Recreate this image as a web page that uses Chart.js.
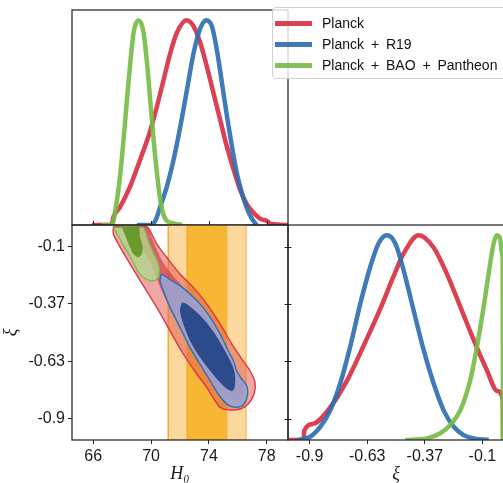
<!DOCTYPE html>
<html lang="en">
<head>
<meta charset="UTF-8">
<title>H0 - xi constraints</title>
<script src="https://cdn.jsdelivr.net/npm/chart.js@4"></script>
<style>
  body { margin: 0; background: #fff; overflow: hidden; }
  #fig { position: relative; width: 503px; height: 483px; overflow: hidden; }
  #fig canvas { position: absolute; left: 0; top: 0; }
  #legend {
    position: absolute; left: 272px; top: 7px; width: 240px; height: 72px;
    box-sizing: border-box; background: rgba(255,255,255,0.8);
    border: 1px solid #d2d2d2; border-radius: 4px;
    font: 14px "Liberation Sans", sans-serif; color: #111; word-spacing: 3px;
  }
  .item { position: absolute; left: 0; height: 21px; line-height: 21px; white-space: nowrap; }
  .swatch { position: absolute; left: 2px; top: 8px; width: 37px; height: 5px; }
  .label { position: absolute; left: 49px; }
</style>
</head>
<body>
<div id="fig">
  <canvas id="topPanel" width="503" height="483"></canvas>
  <canvas id="pairPanel" width="503" height="483"></canvas>
  <canvas id="xiPanel" width="520" height="483"></canvas>
  <div id="legend"></div>
</div>

<script>
// series
const seriesNames = ['Planck', 'Planck + R19', 'Planck + BAO + Pantheon'];
const seriesColors = ['rgba(216,48,68,0.92)', 'rgba(46,112,178,0.92)', 'rgba(118,188,70,0.92)'];

// axes
const h0Range = [64.53, 79.47];
const xiRange = [-1, 0];
const h0Ticks = [66, 70, 74, 78];
const h0TickLabels = ['66', '70', '74', '78'];
const xiTicks = [-0.1, -0.3667, -0.6333, -0.9];
const xiTickLabels = ['-0.1', '-0.37', '-0.63', '-0.9'];

// 1D posteriors of H0 (normalised to peak 1)
const planckH0 = [[65.91,0],[67.25,0],[67.4,0.04],[67.87,0.09],[68.56,0.19],[69.25,0.32],[69.94,0.46],[70.41,0.58],
  [70.87,0.71],[71.33,0.84],[71.79,0.94],[72.44,1.0],[72.94,0.97],[73.4,0.89],[73.87,0.77],[74.33,0.64],[74.79,0.51],
  [75.25,0.38],[75.71,0.27],[76.17,0.17],[76.64,0.1],[77.09,0.06],[77.56,0.03],[78.02,0.02],[78.3,0.005],[79.47,0]];
const r19H0 = [[69.02,0],[70.06,0],[70.35,0.03],[70.64,0.09],[71.1,0.19],[71.56,0.32],[72.02,0.48],[72.48,0.66],
  [72.94,0.84],[73.4,0.96],[73.82,1.0],[74.21,0.97],[74.56,0.85],[74.91,0.69],[75.25,0.53],[75.6,0.38],[75.94,0.25],
  [76.29,0.155],[76.64,0.08],[76.98,0.03],[77.21,0.008],[77.3,0]];
const baoH0 = [[66.6,0],[67.3,0],[67.45,0.04],[67.64,0.12],[67.87,0.25],[68.1,0.42],[68.33,0.61],[68.56,0.79],
  [68.79,0.94],[69.13,1.0],[69.48,0.94],[69.72,0.79],[69.94,0.61],[70.17,0.42],[70.41,0.25],[70.64,0.12],
  [70.98,0.03],[71.56,0.008],[72.14,0]];

// 1D posteriors of xi
const planckXi = [[-1,0],[-0.928,0],[-0.925,0.045],[-0.881,0.08],[-0.804,0.16],[-0.727,0.29],[-0.65,0.46],
  [-0.573,0.64],[-0.511,0.8],[-0.465,0.91],[-0.395,1.0],[-0.326,0.94],[-0.264,0.81],[-0.202,0.65],[-0.141,0.49],
  [-0.079,0.34],[-0.032,0.24],[-0.006,0.2],[-0.004,0]];
const r19Xi = [[-0.953,0],[-0.897,0.016],[-0.85,0.065],[-0.804,0.146],[-0.758,0.277],[-0.712,0.456],[-0.665,0.667],
  [-0.619,0.846],[-0.581,0.96],[-0.542,1.0],[-0.503,0.96],[-0.465,0.83],[-0.419,0.635],[-0.372,0.44],[-0.326,0.277],
  [-0.28,0.146],[-0.233,0.065],[-0.187,0.024],[-0.141,0.008],[-0.071,0]];
const baoXi = [[-0.457,0],[-0.357,0.008],[-0.295,0.033],[-0.249,0.073],[-0.202,0.146],[-0.156,0.293],[-0.125,0.456],
  [-0.094,0.651],[-0.071,0.814],[-0.048,0.96],[-0.032,1.0],[-0.017,0.977],[-0.009,0.911],[-0.006,0.85],[-0.005,0]];

// 2D contours (H0, xi), 95% and 68%
const planckOuter = [[67.39,-0.008],[67.39,-0.042],[67.73,-0.088],[68.54,-0.181],[69.46,-0.282],[70.39,-0.383],
  [71.31,-0.492],[72.23,-0.6],[73.16,-0.693],[73.85,-0.755],[74.42,-0.817],[74.77,-0.848],[75.34,-0.86],[76.15,-0.856],
  [76.72,-0.833],[77.12,-0.786],[77.19,-0.732],[76.84,-0.678],[76.27,-0.623],[75.58,-0.553],[74.77,-0.46],
  [73.85,-0.367],[72.92,-0.29],[72.0,-0.228],[71.08,-0.15],[70.39,-0.088],[69.93,-0.027],[69.7,-0.008]];
const planckInner = [[69.23,-0.093],[69.93,-0.172],[70.27,-0.228],[70.62,-0.288],[71.03,-0.349],[71.65,-0.428],
  [72.35,-0.516],[73.04,-0.595],[73.73,-0.674],[74.35,-0.74],[74.91,-0.791],[75.6,-0.814],[76.15,-0.809],
  [76.43,-0.781],[76.36,-0.735],[76.01,-0.688],[75.53,-0.628],[75.04,-0.563],[74.35,-0.479],[73.59,-0.4],
  [72.83,-0.335],[72.0,-0.274],[71.31,-0.219],[70.82,-0.172],[70.41,-0.116],[70.06,-0.06],[69.79,-0.014],[69.1,-0.014]];
const r19Outer = [[70.73,-0.228],[70.62,-0.259],[70.85,-0.306],[71.31,-0.383],[72.0,-0.476],[72.69,-0.569],
  [73.38,-0.647],[74.08,-0.724],[74.65,-0.786],[75.11,-0.825],[75.58,-0.845],[76.15,-0.845],[76.5,-0.825],
  [76.68,-0.786],[76.61,-0.747],[76.27,-0.716],[75.92,-0.678],[75.69,-0.631],[75.34,-0.585],[74.77,-0.507],
  [74.08,-0.429],[73.38,-0.367],[72.69,-0.321],[72.0,-0.282],[71.43,-0.259],[71.08,-0.243]];
const r19Inner = [[72.12,-0.36],[72.0,-0.399],[72.23,-0.46],[72.69,-0.538],[73.38,-0.615],[74.08,-0.678],
  [74.77,-0.732],[75.34,-0.766],[75.65,-0.771],[75.8,-0.747],[75.8,-0.693],[75.58,-0.647],[75.11,-0.585],
  [74.42,-0.507],[73.73,-0.445],[73.04,-0.399],[72.46,-0.367]];
const baoOuter = [[67.39,-0.011],[67.85,-0.065],[68.31,-0.12],[68.77,-0.173],[69.12,-0.22],[69.46,-0.243],
  [69.93,-0.259],[70.34,-0.256],[70.57,-0.228],[70.5,-0.181],[70.15,-0.127],[69.81,-0.073],[69.58,-0.027],[69.46,-0.011]];
const baoInner = [[67.97,-0.011],[68.08,-0.027],[68.31,-0.065],[68.54,-0.104],[68.77,-0.135],[69.12,-0.15],
  [69.35,-0.135],[69.42,-0.104],[69.23,-0.057],[69.12,-0.011]];

// local H0 measurement (R19) bands: 68% and 95%
const r19Band68 = [72.5, 75.23];
const r19Band95 = [71.19, 76.57];

const tickFont = { family: '"Liberation Sans", Arial, sans-serif', size: 16 };
const titleFont = { family: '"Liberation Serif", "DejaVu Serif", serif', size: 18, style: 'italic' };
const ink = '#1a1a1a';

// frame + inward tick marks drawn with the chart's own scales
const panelFrame = {
  id: 'panelFrame',
  afterDraw(chart, args, opts) {
    const { ctx, chartArea: a } = chart;
    ctx.save();
    ctx.strokeStyle = '#262626';
    ctx.lineWidth = 1;
    (opts.inTicks || []).forEach(t => {
      const scale = chart.scales[t.scale];
      t.values.forEach(v => {
        const p = Math.round(scale.getPixelForValue(v)) + 0.5;
        ctx.beginPath();
        if (t.side === 'bottom') {
          ctx.moveTo(p, a.bottom); ctx.lineTo(p, a.bottom - t.len);
        } else if (t.side === 'right') {
          ctx.moveTo(a.right + t.len, p); ctx.lineTo(a.right - t.len, p);
        }
        ctx.stroke();
      });
    });
    ctx.lineWidth = 1.25;
    ctx.strokeRect(a.left, a.top, a.right - a.left, a.bottom - a.top);
    ctx.restore();
  }
};

function toXY(pts) {
  return pts.map(p => ({ x: p[0], y: p[1] }));
}

function curve(pts, color) {
  return {
    data: toXY(pts), borderColor: color, borderWidth: 4.5, pointRadius: 0,
    fill: false, cubicInterpolationMode: 'monotone'
  };
}

function region(pts, fillColor, lineColor, lw, tension) {
  return {
    data: toXY(pts.concat([pts[0]])), backgroundColor: fillColor, borderColor: lineColor,
    borderWidth: lw, pointRadius: 0, fill: 'shape', tension: tension === undefined ? 0.3 : tension
  };
}

function band(lim, fillColor) {
  const pts = [[lim[0], xiRange[0]], [lim[1], xiRange[0]], [lim[1], xiRange[1]], [lim[0], xiRange[1]]];
  return region(pts, fillColor, 'rgba(245,170,40,0.9)', 1, 0);
}

// painter's order: first layer at the bottom
function stack(layers) {
  layers.forEach((d, i) => { d.order = layers.length - i; });
  return layers;
}

function tickAxis(vals, labels, range, extra) {
  return Object.assign({
    type: 'linear', min: range[0], max: range[1],
    afterBuildTicks: s => { s.ticks = vals.map(v => ({ value: v })); },
    ticks: {
      autoSkip: false, maxRotation: 0, color: ink, font: tickFont, padding: 3,
      callback: v => labels[vals.indexOf(v)]
    },
    grid: { display: true, drawOnChartArea: false, drawTicks: true, tickLength: 4, color: '#262626', lineWidth: 1 },
    border: { display: false }
  }, extra);
}

const baseOptions = {
  responsive: false,
  animation: false,
  events: [],
  plugins: { legend: { display: false }, tooltip: { enabled: false } }
};

// top-left: H0 marginals
new Chart(document.getElementById('topPanel'), {
  type: 'line',
  data: { datasets: stack([
    curve(planckH0, seriesColors[0]),
    curve(r19H0, seriesColors[1]),
    curve(baoH0, seriesColors[2])
  ]) },
  options: Object.assign({}, baseOptions, {
    layout: { padding: { left: 72, top: 10, right: 215, bottom: 258 } },
    scales: {
      x: { type: 'linear', display: false, min: h0Range[0], max: h0Range[1] },
      y: { type: 'linear', display: false, min: 0, max: 1.05 }
    },
    plugins: Object.assign({}, baseOptions.plugins, {
      panelFrame: { inTicks: [{ scale: 'x', side: 'bottom', values: h0Ticks, len: 4 }] }
    })
  }),
  plugins: [panelFrame]
});

// bottom-left: H0 vs xi
new Chart(document.getElementById('pairPanel'), {
  type: 'line',
  data: { datasets: stack([
    band(r19Band95, 'rgba(253,216,158,1)'),
    band(r19Band68, 'rgba(247,183,52,1)'),
    region(planckOuter, 'rgba(224,96,84,0.55)', 'rgba(216,48,68,0.95)', 1.4),
    region(planckInner, 'rgba(214,45,62,0.6)', 'rgba(216,48,68,0)', 0),
    region(baoOuter, 'rgba(178,214,140,0.8)', 'rgba(118,188,70,1)', 1.3),
    region(baoInner, 'rgba(98,152,36,0.92)', 'rgba(98,152,36,0)', 0),
    region(r19Outer, 'rgba(152,166,214,0.88)', 'rgba(46,112,178,1)', 1.4),
    region(r19Inner, 'rgba(38,72,138,0.96)', 'rgba(38,72,138,0)', 0)
  ]) },
  options: Object.assign({}, baseOptions, {
    layout: { padding: { left: 0, top: 225, right: 215, bottom: 0 } },
    scales: {
      x: tickAxis(h0Ticks, h0TickLabels, h0Range, {
        position: 'bottom',
        afterFit: s => { s.height = 43; },
        title: { display: true, text: 'H₀', color: ink, font: titleFont, padding: { top: 0, bottom: -2 } }
      }),
      y: tickAxis(xiTicks, xiTickLabels, xiRange, {
        position: 'left',
        afterFit: s => { s.width = 72; },
        title: { display: true, text: 'ξ', color: ink, font: titleFont, padding: 0 }
      })
    },
    plugins: Object.assign({}, baseOptions.plugins, {
      panelFrame: { inTicks: [{ scale: 'y', side: 'right', values: xiTicks, len: 3.5 }] }
    })
  }),
  plugins: [panelFrame]
});

// bottom-right: xi marginals
new Chart(document.getElementById('xiPanel'), {
  type: 'line',
  data: { datasets: stack([
    curve(planckXi, seriesColors[0]),
    curve(r19Xi, seriesColors[1]),
    curve(baoXi, seriesColors[2])
  ]) },
  options: Object.assign({}, baseOptions, {
    layout: { padding: { left: 288, top: 225, right: 16, bottom: 0 } },
    scales: {
      x: tickAxis(xiTicks, xiTickLabels, xiRange, {
        position: 'bottom',
        afterFit: s => { s.height = 43; },
        title: { display: true, text: 'ξ', color: ink, font: titleFont, padding: { top: 0, bottom: -2 } }
      }),
      y: { type: 'linear', display: false, min: 0, max: 1.05 }
    },
    plugins: Object.assign({}, baseOptions.plugins, { panelFrame: {} })
  }),
  plugins: [panelFrame]
});

// legend
const legend = document.getElementById('legend');
seriesNames.forEach((name, i) => {
  const item = document.createElement('div');
  item.className = 'item';
  item.style.top = (4.5 + 21 * i) + 'px';
  item.innerHTML = '<span class="swatch"></span><span class="label"></span>';
  item.querySelector('.swatch').style.background = seriesColors[i];
  item.querySelector('.label').textContent = name;
  legend.appendChild(item);
});
</script>
</body>
</html>
